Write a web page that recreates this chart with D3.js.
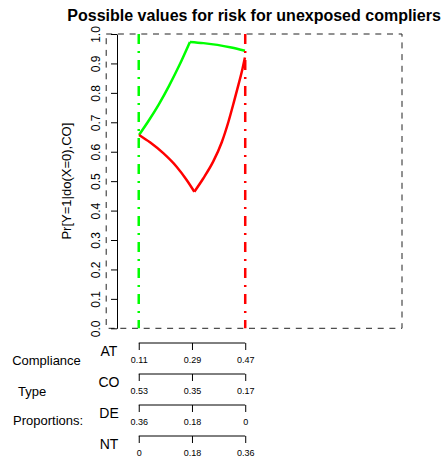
<!DOCTYPE html>
<html>
<head>
<meta charset="utf-8">
<script src="https://cdn.jsdelivr.net/npm/d3@7"></script>
<style>
  body { margin: 0; background: #fff; }
  svg { font-family: "Liberation Sans", Arial, sans-serif; }
</style>
</head>
<body>
<svg id="chart" width="446" height="462"></svg>
<script>
// risk bounds (x = AT proportion)
const upperX = [0.111, 0.144, 0.178, 0.212, 0.246, 0.283, 0.329, 0.376, 0.423, 0.469];
const upperY = [0.657, 0.706, 0.761, 0.823, 0.891, 0.973, 0.969, 0.963, 0.954, 0.943];
const lowerX = [0.111, 0.148, 0.193, 0.238, 0.272, 0.298, 0.328, 0.362, 0.391, 0.413, 0.432, 0.447, 0.461, 0.469];
const lowerY = [0.657, 0.632, 0.595, 0.549, 0.504, 0.464, 0.509, 0.567, 0.633, 0.701, 0.770, 0.827, 0.883, 0.920];

const limits = [0.11, 0.47];
const yTicks = [0, 0.1, 0.2, 0.3, 0.4, 0.5, 0.6, 0.7, 0.8, 0.9, 1.0];
const xTicks = [0.11, 0.29, 0.47];
const types = ["AT", "CO", "DE", "NT"];
const typeLabels = [
    ["0.11", "0.29", "0.47"],
    ["0.53", "0.35", "0.17"],
    ["0.36", "0.18", "0"],
    ["0", "0.18", "0.36"]
];

const font = '"Liberation Sans", Arial, sans-serif';
const svg = d3.select("#chart");

const x = d3.scaleLinear().domain([0, 1]).range([106.2, 402]);
const y = d3.scaleLinear().domain([0, 1]).range([328.3, 34]);

// dashed frame
svg.append("rect")
    .attr("x", x(0)).attr("y", y(1))
    .attr("width", x(1) - x(0)).attr("height", y(0) - y(1))
    .attr("fill", "none")
    .attr("stroke", "#222")
    .attr("stroke-width", 1)
    .attr("stroke-dasharray", "6,5.7");

// y axis
const yAxis = svg.append("g")
    .attr("transform", "translate(117,0)")
    .call(d3.axisLeft(y).tickValues(yTicks).tickFormat(d3.format(".1f")).tickSize(6).tickSizeOuter(0))
    .attr("font-family", font);
yAxis.select(".domain").attr("stroke", "#000");
yAxis.selectAll(".tick line").attr("stroke", "#000");
yAxis.selectAll(".tick text")
    .attr("transform", "rotate(-90)")
    .attr("x", 0).attr("y", -17).attr("dy", 0)
    .attr("text-anchor", "middle")
    .attr("font-size", 12)
    .attr("fill", "#000");

svg.append("text")
    .attr("transform", `translate(71,${(y(0) + y(1)) / 2}) rotate(-90)`)
    .attr("text-anchor", "middle")
    .attr("font-size", 13)
    .text("Pr[Y=1|do(X=0),CO]");

svg.append("text")
    .attr("x", (x(0) + x(1)) / 2)
    .attr("y", 21)
    .attr("text-anchor", "middle")
    .attr("font-size", 16)
    .attr("font-weight", "bold")
    .text("Possible values for risk for unexposed compliers");

// bound curves, split at the kink
function segments(xs, ys, k) {
    const pts = xs.map((v, i) => [v, ys[i]]);
    return [pts.slice(0, k + 1), pts.slice(k)];
}
const line = d3.line().x(d => x(d[0])).y(d => y(d[1])).curve(d3.curveMonotoneX);
const upK = upperY.indexOf(d3.max(upperY));
const loK = lowerY.indexOf(d3.min(lowerY));

svg.selectAll(".upper")
    .data(segments(upperX, upperY, upK))
    .join("path")
    .attr("d", line)
    .attr("fill", "none")
    .attr("stroke", "#00ff00")
    .attr("stroke-width", 2.5);

svg.selectAll(".lower")
    .data(segments(lowerX, lowerY, loK))
    .join("path")
    .attr("d", line)
    .attr("fill", "none")
    .attr("stroke", "#ff0000")
    .attr("stroke-width", 2.5);

// limit lines
svg.selectAll(".limit")
    .data(limits)
    .join("line")
    .attr("x1", d => x(d)).attr("x2", d => x(d))
    .attr("y1", y(1)).attr("y2", y(0))
    .attr("stroke", (d, i) => i === 0 ? "#00ff00" : "#ff0000")
    .attr("stroke-width", 2.5)
    .attr("stroke-dasharray", "10,7,2,7");

// compliance type axes
const rowY = [343, 374, 405, 436];
types.forEach((t, i) => {
    const g = svg.append("g").attr("transform", `translate(0,${rowY[i]})`);
    g.call(d3.axisBottom(x).tickValues(xTicks).tickSize(7).tickFormat((d, j) => typeLabels[i][j]))
        .attr("font-family", font);
    g.select(".domain").remove();
    g.append("line")
        .attr("x1", x(xTicks[0])).attr("x2", x(xTicks[2]))
        .attr("stroke", "#000");
    g.selectAll(".tick line").attr("stroke", "#000");
    g.selectAll(".tick text")
        .attr("y", 14).attr("font-size", 9).attr("fill", "#000");
    g.append("text")
        .attr("x", 109).attr("y", 12.5)
        .attr("text-anchor", "middle")
        .attr("font-size", 14)
        .attr("fill", "#000")
        .text(t);
});

svg.append("text").attr("x", 46.5).attr("y", 364.5).attr("text-anchor", "middle").attr("font-size", 13).text("Compliance");
svg.append("text").attr("x", 18).attr("y", 396).attr("font-size", 13).text("Type");
svg.append("text").attr("x", 13).attr("y", 425).attr("font-size", 13).text("Proportions:");
</script>
</body>
</html>
